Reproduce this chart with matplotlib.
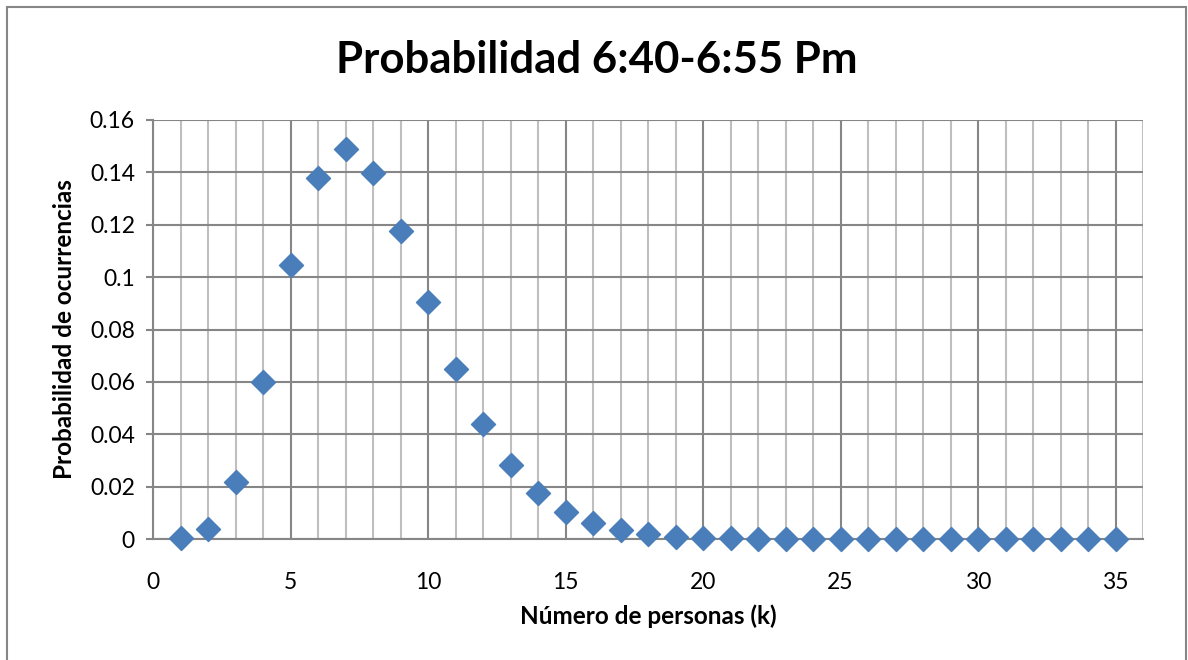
import matplotlib.pyplot as plt
from matplotlib.patches import Rectangle
from matplotlib.ticker import MultipleLocator

plt.rcParams['font.family'] = ['Lato', 'DejaVu Sans']

# datos
k = list(range(1, 36))
prob = [0.0004, 0.0038, 0.0218, 0.0600, 0.1046, 0.1378, 0.1490, 0.1398, 0.1175, 0.0904,
        0.0648, 0.0440, 0.0283, 0.0176, 0.0103, 0.0060, 0.0035, 0.0020, 0.0009, 0.0004,
        0.0002, 0.0001, 0.0001, 0.0000, 0.0000, 0.0000, 0.0000, 0.0000, 0.0000, 0.0000,
        0.0000, 0.0000, 0.0000, 0.0000, 0.0000]

titulo = 'Probabilidad 6:40-6:55 Pm'
etiqueta_x = 'Número de personas (k)'
etiqueta_y = 'Probabilidad de ocurrencias'

fig = plt.figure(figsize=(11.88, 6.6), dpi=100)
ax = fig.add_axes([153 / 1188, 1 - 539 / 660, 990 / 1188, 419 / 660])

# marco exterior del grafico
fig.patches.append(Rectangle((7 / 1188, -0.05), 1179 / 1188, 1.05 - 7 / 660,
                             transform=fig.transFigure, fill=False,
                             edgecolor='#868686', linewidth=1.5))

ax.scatter(k, prob, marker='D', s=150, color='#4A7EBB', zorder=3, clip_on=False)

ax.set_xlim(0, 36)
ax.set_ylim(0, 0.16)
ax.xaxis.set_minor_locator(MultipleLocator(1))
ax.set_xticks([0, 5, 10, 15, 20, 25, 30, 35])
ax.set_yticks([0, 0.02, 0.04, 0.06, 0.08, 0.1, 0.12, 0.14, 0.16])
ax.set_yticklabels(['0', '0.02', '0.04', '0.06', '0.08', '0.1', '0.12', '0.14', '0.16'])

ax.grid(which='minor', axis='x', color='#bfbfbf', linewidth=1.5, zorder=0)
ax.grid(which='major', axis='x', color='#868686', linewidth=1.5, zorder=0)
ax.grid(which='major', axis='y', color='#868686', linewidth=1.5, zorder=0)
ax.set_axisbelow(True)

for lado in ['top', 'right']:
    ax.spines[lado].set_visible(False)
for lado in ['left', 'bottom']:
    ax.spines[lado].set_color('#868686')
    ax.spines[lado].set_linewidth(1.5)

ax.tick_params(axis='x', which='both', length=0, pad=24, labelsize=16.5)
ax.tick_params(axis='y', which='major', length=5, width=1.5, color='#868686',
               pad=8, labelsize=16.5)
ax.tick_params(axis='y', which='minor', length=0)

ax.set_xlabel(etiqueta_x, fontsize=17.5, fontweight='bold', labelpad=8)
ax.set_ylabel(etiqueta_y, fontsize=17.5, fontweight='bold', labelpad=10)
fig.text(597 / 1188, 1 - 60 / 660, titulo, fontsize=31.5, fontweight='bold',
         ha='center', va='center')

fig.savefig('out.png', dpi=100)
